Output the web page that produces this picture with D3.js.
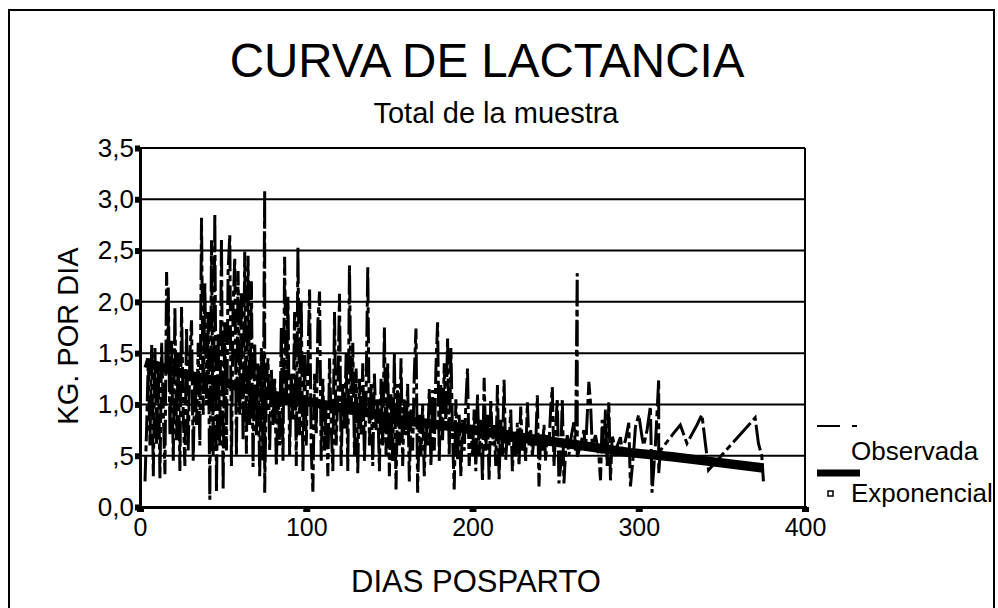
<!DOCTYPE html>
<html>
<head>
<meta charset="utf-8">
<script src="https://d3js.org/d3.v7.min.js"></script>
<style>
  body { margin: 0; background: #fff; }
  text { font-family: Arial, "Liberation Sans", sans-serif; fill: #000; }
</style>
</head>
<body>
<script>
// Textos y ticks
const titulo = "CURVA DE LACTANCIA";
const subtitulo = "Total de la muestra";
const tituloX = "DIAS POSPARTO";
const tituloY = "KG. POR DIA";
const yTicks = [0, 0.5, 1, 1.5, 2, 2.5, 3, 3.5];
const yTickLabels = ["0,0", ",5", "1,0", "1,5", "2,0", "2,5", "3,0", "3,5"];
const xTicks = [0, 100, 200, 300, 400];
const leyenda = ["Observada", "Exponencial"];

// Serie observada: [dia, kg]
const observada = [
  [3,0.25],[4,0.78],[5,1.45],[6,0.60],[7,1.58],[8,0.30],[9,1.55],[10,0.60],[11,1.40],[12,0.28],
  [13,1.60],[14,0.95],[15,0.32],[16,2.29],[17,1.30],[17,2.14],[18,0.70],[19,1.62],[20,0.45],[21,1.95],
  [22,0.65],[23,1.50],[24,0.35],[25,1.95],[26,0.90],[27,0.40],[28,1.75],[29,0.55],[30,1.48],[31,1.82],
  [32,0.45],[33,1.30],[34,0.80],[35,1.60],[36,0.60],[37,2.82],[38,0.90],[39,2.18],[40,1.00],[41,1.90],
  [42,0.07],[43,2.60],[44,0.50],[45,2.86],[46,0.14],[47,1.70],[48,0.60],[49,2.62],[50,0.17],[51,1.80],
  [52,0.55],[53,2.30],[54,2.65],[55,0.40],[56,1.95],[57,2.43],[58,0.50],[59,2.30],[60,0.90],[61,2.10],
  [62,0.65],[63,2.49],[64,0.52],[65,2.45],[66,0.80],[67,2.20],[68,0.39],[69,1.60],[70,0.70],[71,1.40],
  [72,0.30],[73,1.55],[74,0.45],[75,3.09],[75,0.14],[76,1.20],[77,1.45],[78,0.55],[79,1.35],[80,0.80],
  [81,1.25],[82,0.40],[83,1.10],[84,0.60],[85,1.75],[86,0.45],[87,2.44],[88,1.00],[89,2.05],[90,0.50],
  [91,1.30],[92,0.85],[93,1.90],[94,0.40],[95,2.53],[96,0.70],[97,2.00],[98,0.35],[99,1.50],[100,0.60],
  [101,1.40],[102,2.12],[103,0.55],[104,0.15],[105,1.30],[106,0.70],[107,1.80],[108,2.10],[109,0.45],[110,1.25],
  [111,0.55],[112,1.00],[113,0.30],[114,1.45],[115,0.80],[116,0.35],[117,1.90],[118,0.60],[119,1.10],[120,2.08],
  [121,0.40],[122,1.20],[123,0.75],[124,1.50],[125,0.35],[126,2.36],[127,0.90],[128,1.60],[129,0.50],[130,1.35],
  [131,0.33],[132,1.25],[133,0.70],[134,1.40],[135,0.45],[136,1.10],[137,2.34],[138,0.60],[139,1.20],[140,0.40],
  [141,1.30],[142,0.75],[143,1.05],[144,0.35],[145,1.25],[146,0.60],[147,1.75],[148,0.50],[149,1.40],[150,0.30],
  [151,1.10],[152,0.45],[153,1.50],[154,0.17],[155,1.20],[156,0.60],[157,1.45],[158,0.40],[159,1.05],[160,0.70],
  [161,1.20],[162,0.25],[163,0.95],[164,0.55],[165,1.30],[166,1.74],[167,0.14],[168,0.90],[169,0.50],[170,1.00],
  [171,0.30],[172,0.85],[173,0.60],[174,1.15],[175,0.40],[176,1.14],[177,0.55],[178,1.35],[179,1.80],[180,0.45],
  [181,1.20],[182,0.65],[183,1.40],[184,0.80],[185,1.65],[186,0.50],[187,1.55],[188,0.70],[189,0.17],[190,1.05],
  [191,0.45],[192,0.90],[193,0.30],[194,0.85],[195,0.55],[196,1.00],[197,1.35],[198,0.40],[199,0.80],[200,0.50],
  [201,0.95],[202,0.35],[203,1.10],[204,0.50],[205,0.85],[206,0.25],[207,1.26],[208,0.55],[209,0.90],[210,0.26],
  [211,1.05],[212,0.60],[213,0.80],[214,0.40],[215,1.19],[216,0.27],[217,0.85],[218,0.50],[219,1.24],[220,0.46],
  [221,0.75],[222,0.60],[223,0.95],[224,0.35],[225,0.70],[226,0.50],[227,0.82],[228,0.40],[229,0.98],[230,0.55],
  [231,0.70],[232,0.45],[233,1.02],[234,0.60],[235,0.75],[236,0.50],[237,0.68],[238,0.60],[239,1.09],[240,0.20],
  [241,0.72],[242,0.55],[243,0.80],[244,0.45],[245,0.70],[246,0.60],[247,0.95],[248,1.17],[249,0.40],[250,0.75],
  [251,1.06],[252,0.23],[253,0.40],[254,1.06],[255,0.23],[256,0.55],[257,0.70],[258,0.50],[259,0.65],[261,0.83],
  [262,0.55],[263,2.28],[263,0.49],[265,0.60],[267,0.75],[268,0.55],[270,1.22],[271,1.01],[272,0.60],[274,0.70],
  [276,0.50],[277,0.26],[278,0.85],[279,0.55],[280,0.95],[281,0.40],[282,1.02],[283,0.26],[284,0.70],[286,0.55],
  [289,0.68],[290,0.55],[292,0.65],[294,0.82],[295,0.20],[297,0.55],[298,0.78],[300,0.90],[302,0.68],[303,0.60],
  [305,0.75],[307,0.98],[308,0.14],[310,0.60],[312,1.24],[312,0.33],[313,0.55],[321,0.72],[325,0.80],[329,0.62],
  [335,0.80],[338,0.90],[342,0.36],[370,0.87],[372,0.62],[374,0.50],[375,0.25]
];

// Ajuste exponencial
const expDias = [3, 30, 50, 70, 100, 140, 150, 190, 220, 265, 295, 320, 345, 375];
const expKg = [1.41, 1.28, 1.22, 1.12, 1.03, 0.91, 0.86, 0.78, 0.70, 0.60, 0.53, 0.49, 0.44, 0.38];

// Dimensiones
const W = 998, H = 608;
const margin = { top: 148, right: 193, bottom: 101, left: 140 },
      width = W - margin.left - margin.right,
      height = H - margin.top - margin.bottom;

const svg = d3.select("body").append("svg")
    .attr("width", W)
    .attr("height", H);

// Marco exterior
svg.append("rect")
    .attr("x", 9).attr("y", 10)
    .attr("width", 985).attr("height", 640)
    .attr("fill", "none")
    .attr("stroke", "#000")
    .attr("stroke-width", 2);

// Títulos
svg.append("text")
    .attr("x", 487).attr("y", 77)
    .attr("text-anchor", "middle")
    .style("font-size", "47.5px")
    .text(titulo);

svg.append("text")
    .attr("x", 496).attr("y", 123)
    .attr("text-anchor", "middle")
    .style("font-size", "29px")
    .text(subtitulo);

svg.append("text")
    .attr("x", 476).attr("y", 592)
    .attr("text-anchor", "middle")
    .style("font-size", "31px")
    .text(tituloX);

svg.append("text")
    .attr("transform", "translate(78,336) rotate(-90)")
    .attr("text-anchor", "middle")
    .style("font-size", "29px")
    .text(tituloY);

const g = svg.append("g")
    .attr("transform", "translate(" + margin.left + "," + margin.top + ")");

const x = d3.scaleLinear().domain([0, 400]).range([0, width]);
const y = d3.scaleLinear().domain([0, 3.5]).range([height, 0]);

// Líneas de cuadrícula
g.append("g")
  .selectAll("line")
    .data(yTicks.filter(d => d > 0))
  .enter().append("line")
    .attr("x1", 0).attr("x2", width)
    .attr("y1", d => y(d)).attr("y2", d => y(d))
    .attr("stroke", "#000")
    .attr("stroke-width", 2);

// Borde derecho
g.append("line")
    .attr("x1", width).attr("x2", width)
    .attr("y1", 0).attr("y2", height)
    .attr("stroke", "#000")
    .attr("stroke-width", 2);

// Ejes
const ejeY = g.append("g")
    .call(d3.axisLeft(y)
        .tickValues(yTicks)
        .tickFormat((d, i) => yTickLabels[i])
        .tickSize(5)
        .tickPadding(1));
ejeY.attr("font-size", null).attr("font-family", null);
ejeY.select(".domain").attr("stroke-width", 3);
ejeY.selectAll(".tick line").attr("stroke-width", 6);
ejeY.selectAll(".tick text").style("font-size", "26px");

const ejeX = g.append("g")
    .attr("transform", "translate(0," + height + ")")
    .call(d3.axisBottom(x)
        .tickValues(xTicks)
        .tickSize(5)
        .tickPadding(6));
ejeX.attr("font-size", null).attr("font-family", null);
ejeX.select(".domain").attr("stroke-width", 3);
ejeX.selectAll(".tick line").attr("stroke-width", 7);
ejeX.selectAll(".tick text").style("font-size", "25px");

// Serie observada
const linea = d3.line()
    .x(d => x(d[0]))
    .y(d => y(d[1]));

g.append("path")
    .datum(observada)
    .attr("d", linea)
    .attr("fill", "none")
    .attr("stroke", "#000")
    .attr("stroke-width", 3)
    .attr("stroke-dasharray", "26,4,6,4");

// Curva exponencial
g.append("path")
    .datum(expDias.map((d, i) => [d, expKg[i]]))
    .attr("d", linea)
    .attr("fill", "none")
    .attr("stroke", "#000")
    .attr("stroke-width", 9.5)
    .attr("stroke-linejoin", "round");

// Leyenda
const ley = svg.append("g");
ley.append("line")
    .attr("x1", 817).attr("x2", 859)
    .attr("y1", 426).attr("y2", 426)
    .attr("stroke", "#000")
    .attr("stroke-width", 2)
    .attr("stroke-dasharray", "23,12,5,12");
ley.append("text")
    .attr("x", 851).attr("y", 460)
    .style("font-size", "26px")
    .text(leyenda[0]);
ley.append("line")
    .attr("x1", 817).attr("x2", 860)
    .attr("y1", 473).attr("y2", 473)
    .attr("stroke", "#000")
    .attr("stroke-width", 7);
ley.append("rect")
    .attr("x", 828).attr("y", 491)
    .attr("width", 5).attr("height", 5)
    .attr("fill", "#fff")
    .attr("stroke", "#000")
    .attr("stroke-width", 1.5);
ley.append("text")
    .attr("x", 851).attr("y", 502)
    .style("font-size", "26px")
    .text(leyenda[1]);
</script>
</body>
</html>
